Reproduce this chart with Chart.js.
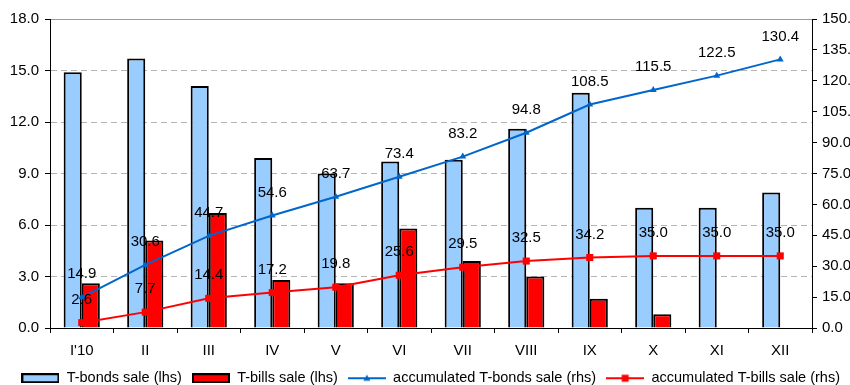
<!DOCTYPE html>
<html>
<head>
<meta charset="utf-8">
<script src="https://cdn.jsdelivr.net/npm/chart.js@4.4.0/dist/chart.umd.min.js"></script>
<style>
  html, body { margin: 0; padding: 0; background: #fff; }
  #wrap { width: 850px; height: 385px; }
</style>
</head>
<body>
<div id="wrap"><canvas id="sales"></canvas></div>
<script>
const months = ["I'10", 'II', 'III', 'IV', 'V', 'VI', 'VII', 'VIII', 'IX', 'X', 'XI', 'XII'];
const bondsSale = [14.9, 15.7, 14.1, 9.9, 9.0, 9.7, 9.8, 11.6, 13.7, 7.0, 7.0, 7.9];
const billsSale = [2.6, 5.1, 6.7, 2.8, 2.6, 5.8, 3.9, 3.0, 1.7, 0.8, 0, 0];
const bondsAccum = [14.9, 30.6, 44.7, 54.6, 63.7, 73.4, 83.2, 94.8, 108.5, 115.5, 122.5, 130.4];
const billsAccum = [2.6, 7.7, 14.4, 17.2, 19.8, 25.6, 29.5, 32.5, 34.2, 35.0, 35.0, 35.0];
const seriesNames = ['T-bonds sale (lhs)', 'T-bills sale (lhs)', 'accumulated T-bonds sale (rhs)', 'accumulated T-bills sale (rhs)'];

const BLUE_BAR = '#99ccff';
const RED = '#ff0000';
const BLUE_LINE = '#0066cc';
const FONT = 'Arial, "Liberation Sans", sans-serif';

Chart.defaults.font.family = FONT;
Chart.defaults.font.size = 15;
Chart.defaults.color = '#000';

// little pictures used as legend keys
function swatch(kind, color) {
  const c = document.createElement('canvas');
  c.width = 38; c.height = 10;
  const g = c.getContext('2d');
  if (kind === 'bar') {
    g.fillStyle = color;
    g.fillRect(1, 1, 36, 8);
    g.strokeStyle = '#000';
    g.lineWidth = 2;
    g.strokeRect(1, 1, 36, 8);
  } else {
    g.strokeStyle = color;
    g.lineWidth = 2;
    g.beginPath(); g.moveTo(0, 5); g.lineTo(38, 5); g.stroke();
    g.fillStyle = color;
    if (kind === 'tri') {
      g.beginPath(); g.moveTo(19, 1.5); g.lineTo(22.5, 7.5); g.lineTo(15.5, 7.5); g.closePath(); g.fill();
    } else {
      g.fillRect(15.5, 1.5, 7, 7);
    }
  }
  return c;
}
const keys = [swatch('bar', BLUE_BAR), swatch('bar', RED), swatch('tri', BLUE_LINE), swatch('sq', RED)];

// values written above each point of the accumulated lines
const pointLabels = {
  id: 'pointLabels',
  afterDatasetsDraw(chart) {
    const ctx = chart.ctx;
    ctx.save();
    ctx.font = '15px ' + FONT;
    ctx.fillStyle = '#000';
    ctx.textAlign = 'center';
    ctx.textBaseline = 'middle';
    chart.data.datasets.forEach((ds, i) => {
      if (ds.type !== 'line') return;
      chart.getDatasetMeta(i).data.forEach((pt, j) => {
        ctx.fillText(ds.data[j].toFixed(1), pt.x, pt.y - 23);
      });
    });
    ctx.restore();
  }
};

new Chart(document.getElementById('sales'), {
  data: {
    labels: months,
    datasets: [
      { type: 'bar', label: seriesNames[0], data: bondsSale, yAxisID: 'y', order: 2,
        backgroundColor: BLUE_BAR, borderColor: '#000', borderWidth: 2 },
      { type: 'bar', label: seriesNames[1], data: billsSale, yAxisID: 'y', order: 2,
        backgroundColor: RED, borderColor: '#000', borderWidth: 2 },
      { type: 'line', label: seriesNames[2], data: bondsAccum, yAxisID: 'y1', order: 1,
        borderColor: BLUE_LINE, backgroundColor: BLUE_LINE, borderWidth: 2,
        pointStyle: 'triangle', pointRadius: 4, pointBorderWidth: 0, tension: 0 },
      { type: 'line', label: seriesNames[3], data: billsAccum, yAxisID: 'y1', order: 1,
        borderColor: RED, backgroundColor: RED, borderWidth: 2,
        pointStyle: 'rect', pointRadius: 5, pointBorderWidth: 0, tension: 0 }
    ]
  },
  options: {
    responsive: true,
    maintainAspectRatio: false,
    animation: false,
    datasets: { bar: { categoryPercentage: 0.57, barPercentage: 1 } },
    layout: { padding: { top: 19, left: 0, right: 0, bottom: 0 } },
    plugins: {
      tooltip: { enabled: false },
      legend: {
        position: 'bottom',
        align: 'end',
        maxHeight: 24,
        labels: {
          font: { size: 14.5 },
          usePointStyle: true,
          pointStyleWidth: 38,
          boxHeight: 10,
          padding: 10,
          generateLabels: () => seriesNames.map((name, i) => ({
            text: name, pointStyle: keys[i], datasetIndex: i, hidden: false,
            fillStyle: 'transparent', strokeStyle: 'transparent', lineWidth: 0, fontColor: '#000'
          }))
        }
      }
    },
    scales: {
      x: {
        grid: { offset: true, drawOnChartArea: false, tickLength: 5, tickColor: '#000' },
        border: { color: '#000' },
        ticks: { padding: 9 },
        afterFit(s) { s.height = 33; }
      },
      y: {
        position: 'left', min: 0, max: 18,
        ticks: { stepSize: 3, padding: 6, callback: v => v.toFixed(1) },
        grid: {
          color: c => (c.tick.value > 0 && c.tick.value < 18) ? '#b4b4b4' : 'transparent',
          tickColor: '#000', tickLength: 5, tickBorderDash: []
        },
        border: { color: '#000', dash: [6, 4] },
        afterFit(s) { s.width = 50; }
      },
      y1: {
        position: 'right', min: 0, max: 150,
        ticks: { stepSize: 15, padding: 5, callback: v => v.toFixed(1) },
        grid: {
          color: c => c.tick.value === 150 ? '#9a9a9a' : 'transparent',
          tickColor: '#000', tickLength: 5
        },
        border: { color: '#000' },
        afterFit(s) { s.width = 38; }
      }
    }
  },
  plugins: [pointLabels]
});
</script>
</body>
</html>
